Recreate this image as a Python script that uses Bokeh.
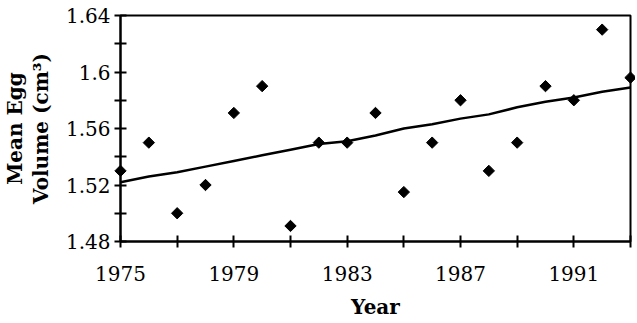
from bokeh.plotting import figure
from bokeh.models import FixedTicker, ColumnDataSource, Range1d
from bokeh.embed import file_html
from bokeh.resources import INLINE
import math

# ---- data ----
years = [1975, 1976, 1977, 1978, 1979, 1980, 1981, 1982, 1983, 1984,
         1985, 1986, 1987, 1988, 1989, 1990, 1991, 1992, 1993]
egg_volume = [1.530, 1.550, 1.500, 1.520, 1.571, 1.590, 1.491, 1.550, 1.550, 1.571,
              1.515, 1.550, 1.580, 1.530, 1.550, 1.590, 1.580, 1.630, 1.596]
trend = [1.522, 1.526, 1.529, 1.533, 1.537, 1.541, 1.545, 1.549, 1.551, 1.555,
         1.560, 1.563, 1.567, 1.570, 1.575, 1.579, 1.582, 1.586, 1.589]

x_major = [1975, 1979, 1983, 1987, 1991]
x_minor = [1977, 1981, 1985, 1989, 1993]
y_major = [1.48, 1.52, 1.56, 1.6, 1.64]
y_minor = [1.50, 1.54, 1.58, 1.62]
y_labels = ["1.48", "1.52", "1.56", "1.6", "1.64"]

src = ColumnDataSource(dict(year=years, volume=egg_volume, trend=trend))

p = figure(frame_width=510, frame_height=226,
           x_range=Range1d(1975, 1993), y_range=Range1d(1.48, 1.64),
           output_backend="svg", toolbar_location=None,
           min_border_left=118, min_border_right=5,
           min_border_top=15, min_border_bottom=82)

p.background_fill_color = "white"
p.border_fill_color = "white"
p.xgrid.grid_line_color = None
p.ygrid.grid_line_color = None
p.outline_line_color = "black"
p.outline_line_width = 2
p.outline_line_alpha = 1.0

p.line("year", "trend", source=src, line_width=2.5, line_color="black")
pts = p.scatter("year", "volume", source=src, marker="square", angle=math.pi / 4,
                size=8, fill_color="black", line_color="black")
pts.level = "overlay"

FONT = "DejaVu Serif"

for ax in (p.xaxis[0], p.yaxis[0]):
    ax.axis_line_color = "black"
    ax.axis_line_width = 2
    ax.major_tick_line_color = "black"
    ax.minor_tick_line_color = "black"
    ax.major_tick_line_width = 2
    ax.minor_tick_line_width = 2
    ax.major_tick_in = 6
    ax.major_tick_out = 6
    ax.minor_tick_in = 6
    ax.minor_tick_out = 6
    ax.major_label_text_font = FONT
    ax.major_label_text_font_size = "20px"
    ax.major_label_text_color = "black"
    ax.axis_label_text_font = FONT
    ax.axis_label_text_font_size = "20px"
    ax.axis_label_text_font_style = "bold"
    ax.axis_label_text_color = "black"

p.xaxis.ticker = FixedTicker(ticks=x_major, minor_ticks=x_minor)
p.yaxis.ticker = FixedTicker(ticks=y_major, minor_ticks=y_minor)
p.yaxis.major_label_overrides = {v: s for v, s in zip(y_major, y_labels)}

p.xaxis.axis_label = "Year"
p.yaxis.axis_label = "Mean Egg\nVolume (cm³)"
p.yaxis.axis_label_text_line_height = 1.07
p.xaxis.major_label_standoff = 18
p.xaxis.axis_label_standoff = 11
p.yaxis.major_label_standoff = 4
p.yaxis.axis_label_standoff = 10

open("out.html", "w").write(file_html(p, INLINE))
